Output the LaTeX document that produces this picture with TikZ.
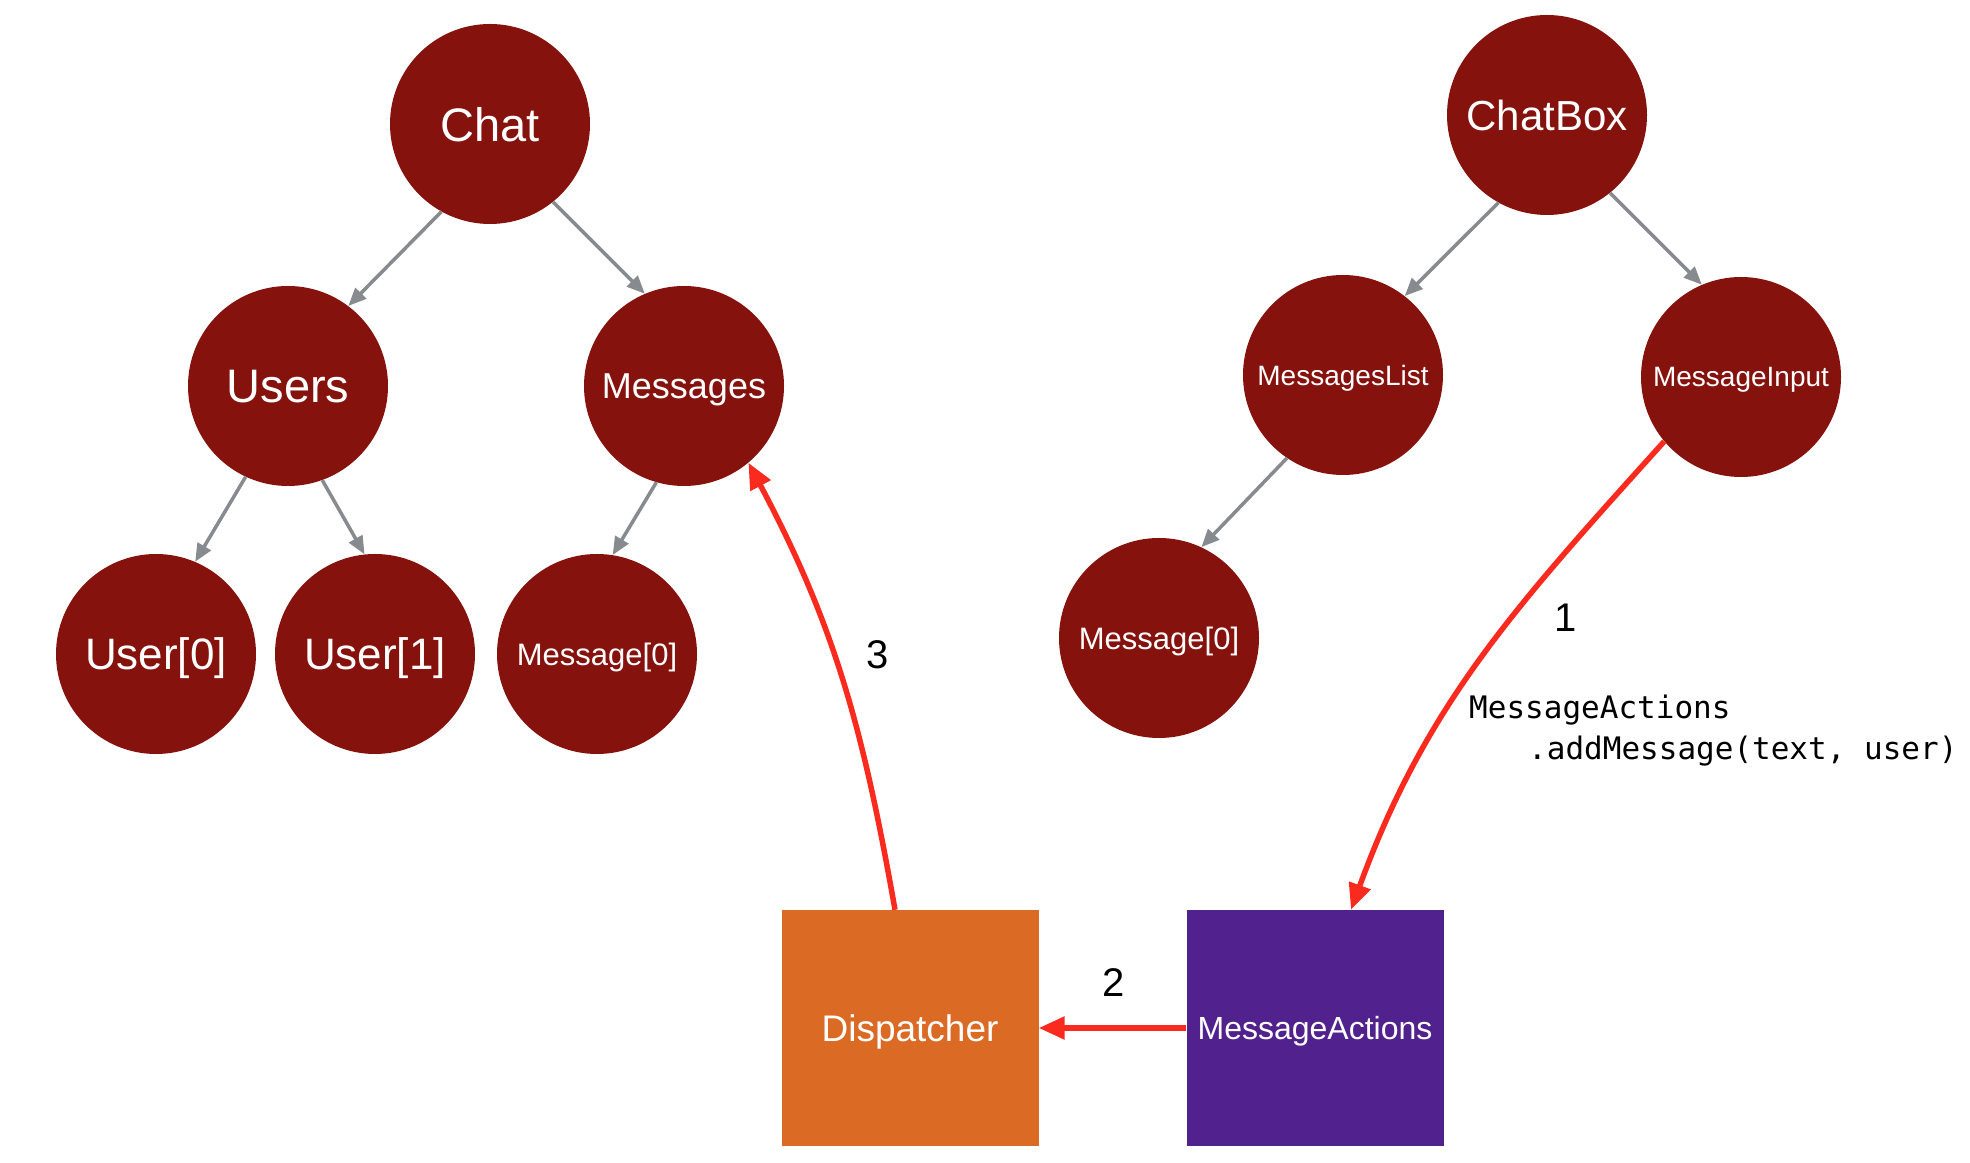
\documentclass[tikz,border=0pt]{standalone}
\usepackage{fontspec}
\setmainfont{Liberation Sans}
\setmonofont{DejaVu Sans Mono}
\usetikzlibrary{arrows.meta}
\definecolor{nodered}{HTML}{85120D}
\definecolor{disporange}{HTML}{DB6A25}
\definecolor{actpurple}{HTML}{51228D}
\definecolor{flowred}{HTML}{FB2A1F}
\definecolor{treegray}{HTML}{878B90}
\newcommand{\fsz}[1]{\fontsize{#1}{#1}\selectfont}
\begin{document}
\begin{tikzpicture}[x=1pt,y=1pt,
  comp/.style={circle, fill=nodered, minimum size=200pt, inner sep=0pt, text=white, text depth=0pt},
  tree/.style={draw=treegray, line width=3.5pt, -{Triangle[length=18pt,width=15pt]}},
  flow/.style={draw=flowred, line width=5.5pt, -{Triangle[length=26pt,width=22pt]}},
  box/.style={minimum width=257pt, minimum height=236pt, inner sep=0pt, text=white, text depth=0pt},
  num/.style={font=\fsz{40}, text=black, inner sep=0pt},
  code/.style={font=\ttfamily\fsz{31}, text=black, inner sep=0pt, anchor=base west}
]
\fill[white] (0,0) rectangle (1970,1162);
\useasboundingbox (0,0) rectangle (1970,1162);

% left tree
\node[comp, font=\fsz{47}] (chat) at (490,1038) {Chat};
\node[comp, font=\fsz{47}] (users) at (288,776) {Users};
\node[comp, font=\fsz{36}] (msgs) at (684,776) {Messages};
\node[comp, font=\fsz{44}] (user0) at (156,508) {User[0]};
\node[comp, font=\fsz{44}] (user1) at (375,508) {User[1]};
\node[comp, font=\fsz{31}] (msg0) at (597,508) {Message[0]};

% right tree
\node[comp, font=\fsz{42}] (chatbox) at (1547,1047) {ChatBox};
\node[comp, font=\fsz{28}] (mlist) at (1343,787) {MessagesList};
\node[comp, font=\fsz{28}] (minput) at (1741,785) {MessageInput};
\node[comp, font=\fsz{31}] (msg0b) at (1159,524) {Message[0]};

% boxes
\node[box, fill=disporange, font=\fsz{37}] (disp) at (910,134) {Dispatcher};
\node[box, fill=actpurple, font=\fsz{32}] (mact) at (1315,134) {MessageActions};

% tree connectors
\draw[tree] (chat.241) -- (users.53);
\draw[tree] (chat.-51) -- (msgs.113);
\draw[tree] (users.245) -- (user0.67);
\draw[tree] (users.290) -- (user1.96);
\draw[tree] (msgs.254) -- (msg0.81);
\draw[tree] (chatbox.241) -- (mlist.52);
\draw[tree] (chatbox.-51) -- (minput.113);
\draw[tree] (mlist.236) -- (msg0b.65);

% flow connectors
\draw[flow] (minput.220) to[out=228,in=70] ([xshift=36pt]mact.north);
\draw[flow] (mact.west) -- (disp.east);
\draw[flow] ([xshift=-15pt]disp.north) to[out=100,in=-62] (msgs.-50);

% labels
\node[num] (n1) at (1566,544) {1};
\node[num] (n2) at (1114,179) {2};
\node[num] (n3) at (878,507) {3};
\node[code] (c1) at (1469,443) {MessageActions};
\node[code] (c2) at (1528,402) {.addMessage(text, user)};
\end{tikzpicture}
\end{document}
